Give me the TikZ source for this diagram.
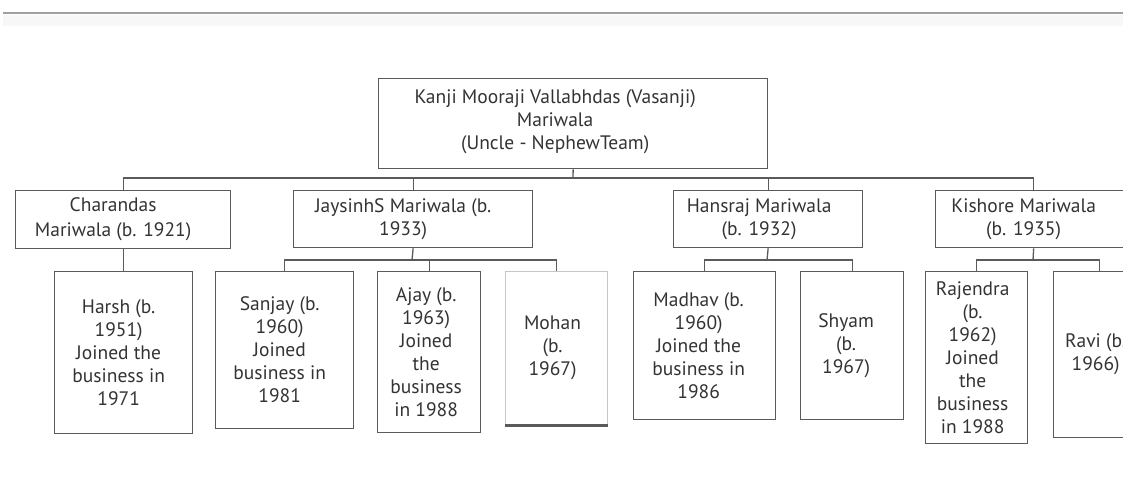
\documentclass[tikz,border=0pt]{standalone}
\usepackage{fontspec}
\setmainfont{PT Sans}
\usetikzlibrary{calc}
\definecolor{ln}{HTML}{5A5A5A}
\definecolor{tx}{HTML}{333333}
\begin{document}
\begin{tikzpicture}[x=1pt,y=-1pt,
  box/.style={draw=ln,line width=1.3pt,rectangle,inner sep=0pt,anchor=north west},
  txt/.style={text=tx,align=center,inner sep=0pt,font=\fontsize{19.5}{23}\selectfont},
  conn/.style={draw=ln,line width=1.3pt}]
\useasboundingbox (0,0) rectangle (1123,490);
\clip (0,0) rectangle (1123,490);
% top rule
\fill[gray!6] (3,15) rectangle (1123,26);
\draw[line width=2pt,gray!75] (3,13) -- (1123,13);
% boxes
\node[box,minimum width=389pt,minimum height=90pt] (root) at (378,78) {};
\node[box,minimum width=215pt,minimum height=58pt] (char) at (15,190) {};
\node[box,minimum width=239pt,minimum height=57pt] (jay) at (293,190) {};
\node[box,minimum width=189pt,minimum height=57pt] (hans) at (673,190) {};
\node[box,minimum width=196pt,minimum height=57pt] (kish) at (935,190) {};
\node[box,minimum width=138pt,minimum height=162pt] (harsh) at (54,271) {};
\node[box,minimum width=138pt,minimum height=157pt] (sanjay) at (215,271) {};
\node[box,minimum width=103pt,minimum height=161pt] (ajay) at (377,271) {};
\node[box,draw=gray!45,line width=1pt,minimum width=102pt,minimum height=153pt] (mohan) at (505,271) {};
\node[box,minimum width=142pt,minimum height=148pt] (madhav) at (633,271) {};
\node[box,minimum width=103pt,minimum height=148pt] (shyam) at (800,271) {};
\node[box,minimum width=102pt,minimum height=172pt] (raj) at (925,271) {};
\node[box,minimum width=92pt,minimum height=166pt] (ravi) at (1053,271) {};
\draw[line width=3pt,ln] (mohan.south west) -- (mohan.south east);
% texts
\node[txt] (t-root) at ($(root.center)+(-18,-2)$) {Kanji Mooraji Vallabhdas (Vasanji)\\Mariwala\\(Uncle - NephewTeam)};
\node[txt,font=\fontsize{19.5}{25}\selectfont] (t-char) at ($(char.center)+(-10,0)$) {Charandas\\Mariwala (b. 1921)};
\node[txt] (t-jay) at ($(jay.center)+(-10,0)$) {JaysinhS Mariwala (b.\\1933)};
\node[txt] (t-hans) at ($(hans.center)+(-9,0)$) {Hansraj Mariwala\\(b. 1932)};
\node[txt] (t-kish) at ($(kish.center)+(-10,0)$) {Kishore Mariwala\\(b. 1935)};
\node[txt] (t-harsh) at ($(harsh.center)+(-5,0)$) {Harsh (b.\\1951)\\Joined the\\business in\\1971};
\node[txt] (t-sanjay) at ($(sanjay.center)+(-5,0)$) {Sanjay (b.\\1960)\\Joined\\business in\\1981};
\node[txt] (t-ajay) at ($(ajay.center)+(-3,0)$) {Ajay (b.\\1963)\\Joined\\the\\business\\in 1988};
\node[txt] (t-mohan) at ($(mohan.center)+(-4,0)$) {Mohan\\(b.\\1967)};
\node[txt] (t-madhav) at ($(madhav.center)+(-6,0)$) {Madhav (b.\\1960)\\Joined the\\business in\\1986};
\node[txt] (t-shyam) at ($(shyam.center)+(-6,0)$) {Shyam\\(b.\\1967)};
\node[txt] (t-raj) at ($(raj.center)+(-4,0)$) {Rajendra\\(b.\\1962)\\Joined\\the\\business\\in 1988};
\node[txt] (t-ravi) at ($(ravi.center)+(-4,0)$) {Ravi (b.\\1966)};
% connectors
\coordinate (b0) at (573,178);
\coordinate (b1) at (412,260);
\coordinate (b2) at (767,260);
\coordinate (b3) at (1033,260);
\draw[conn] (root.south) -- (b0);
\draw[conn] (char.north) -- (char.north |- b0) -- (kish.north |- b0) -- (kish.north);
\draw[conn] (jay.north) -- (jay.north |- b0);
\draw[conn] (hans.north) -- (hans.north |- b0);
\draw[conn] (char.south) -- (char.south |- harsh.north);
\draw[conn] (jay.south) -- (b1);
\draw[conn] (sanjay.north) -- (sanjay.north |- b1) -- (mohan.north |- b1) -- (mohan.north);
\draw[conn] (ajay.north) -- (ajay.north |- b1);
\draw[conn] (hans.south) -- (b2);
\draw[conn] (madhav.north) -- (madhav.north |- b2) -- (shyam.north |- b2) -- (shyam.north);
\draw[conn] (kish.south) -- (b3);
\draw[conn] (raj.north) -- (raj.north |- b3) -- (ravi.north |- b3) -- (ravi.north);
\end{tikzpicture}
\end{document}
